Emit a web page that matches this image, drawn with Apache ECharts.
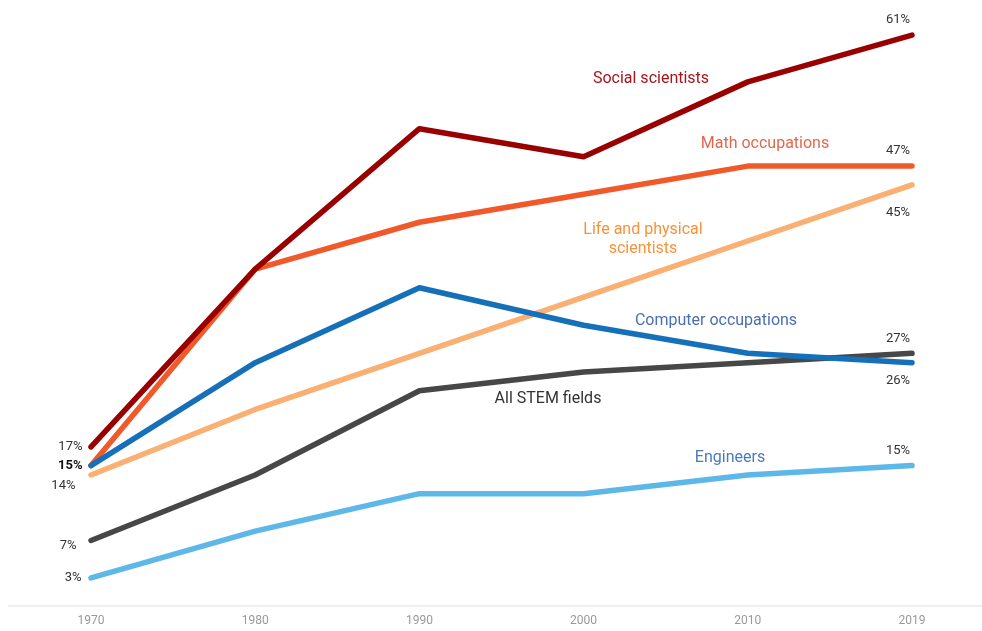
<!DOCTYPE html>
<html>
<head>
<meta charset="utf-8">
<script src="https://cdn.jsdelivr.net/npm/echarts@6/dist/echarts.min.js"></script>
<style>
  html, body { margin: 0; padding: 0; background: #fff; }
  #chart { width: 982px; height: 631px; }
</style>
</head>
<body>
<div id="chart"></div>
<script>
const years = ['1970', '1980', '1990', '2000', '2010', '2019']

// share of women, %
const socialScientists = [17, 36, 51, 48, 56, 61]
const mathOccupations = [15, 36, 41, 44, 47, 47]
const lifePhysical = [14, 21, 27, 33, 39, 45]
const computerOccupations = [15, 26, 34, 30, 27, 26]
const allStem = [7, 14, 23, 25, 26, 27]
const engineers = [3, 8, 12, 12, 14, 15]

const chart = echarts.init(document.getElementById('chart'))

// first / last point labels
function withLabels(values, first, last) {
  return values.map((v, i) => {
    let lab = null
    if (i === 0 && first) lab = first
    if (i === values.length - 1 && last) lab = last
    if (!lab) return v
    return {
      value: v,
      label: Object.assign({
        show: true,
        formatter: '{c}%',
        color: '#333',
        fontSize: 13,
        fontFamily: 'Roboto',
      }, lab),
    }
  })
}

const L = (extra) => Object.assign({ position: 'left', distance: 8 }, extra)
const T = (extra) => Object.assign({ position: 'top', distance: 8, offset: [-14, 0] }, extra)
const B = (extra) => Object.assign({ position: 'bottom', distance: 9, offset: [-14, 0] }, extra)

function line(name, color, data, z) {
  return {
    name,
    type: 'line',
    data,
    z,
    symbol: 'circle',
    symbolSize: 1,
    itemStyle: { color },
    lineStyle: { color, width: 5.5, cap: 'round', join: 'round' },
    emphasis: { disabled: true },
    animation: false,
  }
}

const labelStyle = (color) => ({ fill: color, fontSize: 16, fontFamily: 'Roboto' })

chart.setOption({
  grid: { left: 91, right: 70, top: 7, bottom: 25 },
  xAxis: {
    type: 'category',
    data: years,
    boundaryGap: false,
    axisLine: { show: false },
    axisTick: { show: false },
    axisLabel: { color: '#999', fontSize: 12, fontFamily: 'Roboto', margin: 9 },
  },
  yAxis: {
    type: 'value',
    min: 0,
    max: 64,
    show: false,
  },
  series: [
    line('Engineers', '#5db7e8', withLabels(engineers, L({ distance: 9 }), T()), 2),
    line('Life and physical scientists', '#f9b072', withLabels(lifePhysical, L({ offset: [-7, 11] }), B({ distance: 21 })), 3),
    line('All STEM fields', '#474747', withLabels(allStem, L({ offset: [-6, 5] }), T()), 4),
    line('Math occupations', '#f05a2b', withLabels(mathOccupations, null, T()), 5),
    line('Computer occupations', '#1570b9', withLabels(computerOccupations, L({ fontWeight: 'bold', color: '#111' }), B({ distance: 11 })), 6),
    line('Social scientists', '#990000', withLabels(socialScientists, L(), T()), 7),
  ],
  graphic: [
    { type: 'line', shape: { x1: 8, y1: 606, x2: 982, y2: 606 }, style: { stroke: '#e0e0e0', lineWidth: 1 } },
    { type: 'text', x: 651, y: 79, style: Object.assign({ text: 'Social scientists', align: 'center', verticalAlign: 'middle' }, labelStyle('#a4161c')) },
    { type: 'text', x: 765, y: 144, style: Object.assign({ text: 'Math occupations', align: 'center', verticalAlign: 'middle' }, labelStyle('#e0694d')) },
    { type: 'text', x: 643, y: 239, style: Object.assign({ text: 'Life and physical\nscientists', align: 'center', verticalAlign: 'middle', lineHeight: 19 }, labelStyle('#f7923a')) },
    { type: 'text', x: 716, y: 321, style: Object.assign({ text: 'Computer occupations', align: 'center', verticalAlign: 'middle' }, labelStyle('#4a6db4')) },
    { type: 'text', x: 548, y: 399, style: Object.assign({ text: 'All STEM fields', align: 'center', verticalAlign: 'middle' }, labelStyle('#333')) },
    { type: 'text', x: 730, y: 458, style: Object.assign({ text: 'Engineers', align: 'center', verticalAlign: 'middle' }, labelStyle('#4a7aba')) },
  ],
})

window.addEventListener('resize', () => chart.resize())
</script>
</body>
</html>
